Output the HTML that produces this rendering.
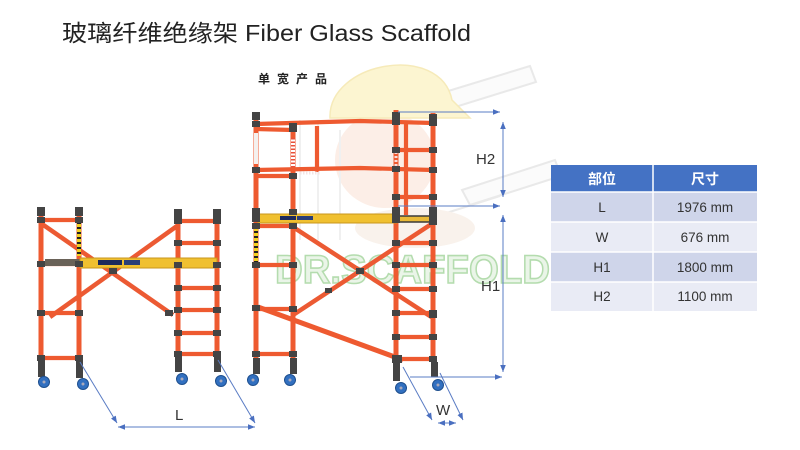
<!DOCTYPE html>
<html><head><meta charset="utf-8">
<style>
html,body{margin:0;padding:0;background:#fff;}
body{width:800px;height:450px;overflow:hidden;}
svg{display:block;}
.p{stroke:#ee5a30;stroke-width:5;fill:none;}
.r{stroke:#ee5a30;stroke-width:4.2;fill:none;}
.b{stroke:#ec5a33;stroke-width:4.5;fill:none;}
.d{stroke:#5a7cc4;stroke-width:1;fill:none;}
.j{fill:#444;}
.w{fill:#3270c0;stroke:#1e4f8e;stroke-width:1;}
.t{font-family:"Liberation Sans","Noto Sans CJK SC",sans-serif;}
</style></head>
<body>
<svg width="800" height="450" viewBox="0 0 800 450" xmlns="http://www.w3.org/2000/svg">
<defs>
<marker id="a" viewBox="0 0 10 10" refX="10" refY="5" markerWidth="7" markerHeight="7" orient="auto-start-reverse" markerUnits="userSpaceOnUse"><path d="M0,1 L10,5 L0,9 z" fill="#4a6fc0"/></marker>
</defs>

<!-- title -->
<text class="t" x="62" y="41" font-size="23" fill="#222" textLength="409" lengthAdjust="spacingAndGlyphs">玻璃纤维绝缘架 Fiber Glass Scaffold</text>
<text class="t" x="258" y="83" font-size="12" font-weight="bold" fill="#222" letter-spacing="7">单宽产品</text>

<!-- watermark -->
<g opacity="0.75">
<path d="M445,92 L530,66 L536,82 L452,108 Z" fill="#fafafa" stroke="#e2e2e2" stroke-width="2"/>
<path d="M462,190 L555,160 L561,176 L470,205 Z" fill="#fafafa" stroke="#e2e2e2" stroke-width="2"/>
<path d="M440,215 L500,196" stroke="#e4e4e4" stroke-width="2"/>
<ellipse cx="385" cy="160" rx="50" ry="48" fill="#fbe9df"/>
<ellipse cx="415" cy="228" rx="60" ry="20" fill="#f7eee6"/>
<path d="M300,120 L300,240 M318,120 L318,240 M340,130 L340,240" stroke="#ececec" stroke-width="2"/>
<path d="M330,118 C328,62 440,42 452,100 L470,118 Z" fill="#fcf2c2" stroke="#f3e4a2" stroke-width="1.5"/>
</g>
<text class="t" x="275" y="283" font-size="40" font-weight="bold" fill="#eaf5e8" stroke="#b4dcae" stroke-width="1.6" textLength="275" lengthAdjust="spacingAndGlyphs">DR.SCAFFOLD</text>
<text class="t" x="560" y="262" font-size="11" fill="#d2d2d2">®</text>

<!-- ===== Left small scaffold ===== -->
<line class="b" x1="42" y1="224" x2="173" y2="315"/>
<line class="b" x1="177" y1="226" x2="50" y2="317"/>
<line class="p" x1="41" y1="208" x2="41" y2="362"/>
<line class="p" x1="79" y1="208" x2="79" y2="362"/>
<line class="p" x1="178" y1="210" x2="178" y2="356"/>
<line class="p" x1="217" y1="210" x2="217" y2="356"/>
<line x1="79" y1="222" x2="79" y2="256" stroke="#f2d020" stroke-width="4"/>
<line x1="79" y1="222" x2="79" y2="256" stroke="#222" stroke-width="4" stroke-dasharray="2,3"/>
<g class="r">
<line x1="41" y1="220" x2="79" y2="220"/>
<line x1="41" y1="264" x2="79" y2="264"/>
<line x1="41" y1="313" x2="79" y2="313"/>
<line x1="41" y1="358" x2="79" y2="358"/>
<line x1="178" y1="221" x2="217" y2="221"/>
<line x1="178" y1="243" x2="217" y2="243"/>
<line x1="178" y1="265" x2="217" y2="265"/>
<line x1="178" y1="288" x2="217" y2="288"/>
<line x1="178" y1="310" x2="217" y2="310"/>
<line x1="178" y1="333" x2="217" y2="333"/>
<line x1="178" y1="354" x2="217" y2="354"/>
</g>
<rect x="45" y="259" width="36" height="7" fill="#6a6258"/>
<rect x="80" y="258" width="137" height="10" fill="#f0c030" stroke="#c9961c" stroke-width="1"/>
<rect x="98" y="260" width="24" height="5" fill="#1d2a5c"/>
<rect x="124" y="260" width="16" height="5" fill="#2a3e78"/>
<g class="j">
<rect x="37" y="207" width="8" height="9"/><rect x="75" y="207" width="8" height="9"/>
<rect x="174" y="209" width="8" height="9"/><rect x="213" y="209" width="8" height="9"/>
<rect x="37" y="217" width="8" height="6"/><rect x="75" y="217" width="8" height="6"/>
<rect x="37" y="261" width="8" height="6"/><rect x="75" y="261" width="8" height="6"/>
<rect x="37" y="310" width="8" height="6"/><rect x="75" y="310" width="8" height="6"/>
<rect x="37" y="355" width="8" height="6"/><rect x="75" y="355" width="8" height="6"/>
<rect x="174" y="218" width="8" height="6"/><rect x="213" y="218" width="8" height="6"/>
<rect x="174" y="240" width="8" height="6"/><rect x="213" y="240" width="8" height="6"/>
<rect x="174" y="262" width="8" height="6"/><rect x="213" y="262" width="8" height="6"/>
<rect x="174" y="285" width="8" height="6"/><rect x="213" y="285" width="8" height="6"/>
<rect x="174" y="307" width="8" height="6"/><rect x="213" y="307" width="8" height="6"/>
<rect x="174" y="330" width="8" height="6"/><rect x="213" y="330" width="8" height="6"/>
<rect x="174" y="351" width="8" height="6"/><rect x="213" y="351" width="8" height="6"/>
<rect x="109" y="268" width="8" height="6"/>
<rect x="165" y="310" width="8" height="6"/>
<rect x="38" y="361" width="7" height="16"/><rect x="76" y="361" width="7" height="17"/>
<rect x="175" y="355" width="7" height="17"/><rect x="214" y="355" width="7" height="17"/>
</g>
<circle class="w" cx="44" cy="382" r="5.5"/><circle class="w" cx="83" cy="384" r="5.5"/>
<circle class="w" cx="182" cy="379" r="5.5"/><circle class="w" cx="221" cy="381" r="5.5"/>
<g fill="#aab"><circle cx="44" cy="382" r="1.5"/><circle cx="83" cy="384" r="1.5"/><circle cx="182" cy="379" r="1.5"/><circle cx="221" cy="381" r="1.5"/></g>

<!-- L dimension -->
<line class="d" x1="80" y1="362" x2="117" y2="423" marker-end="url(#a)"/>
<line class="d" x1="218" y1="360" x2="255" y2="423" marker-end="url(#a)"/>
<line class="d" x1="118" y1="427" x2="255" y2="427" marker-start="url(#a)" marker-end="url(#a)"/>
<text class="t" x="175" y="420" font-size="15" fill="#333">L</text>

<!-- ===== Big scaffold ===== -->
<line class="b" x1="293" y1="227" x2="433" y2="318"/>
<line class="b" x1="293" y1="315" x2="433" y2="223"/>
<line class="p" x1="258" y1="307" x2="403" y2="360"/>
<line class="p" x1="256" y1="113" x2="256" y2="360"/>
<line class="p" x1="293" y1="124" x2="293" y2="360"/>
<line class="p" x1="396" y1="110" x2="396" y2="362"/>
<line class="p" x1="433" y1="113" x2="433" y2="362"/>
<line class="r" x1="406" y1="124" x2="406" y2="215"/>
<line class="r" x1="317" y1="126" x2="317" y2="172"/>
<line x1="256" y1="133" x2="256" y2="164" stroke="#f4f0ee" stroke-width="4"/>
<line x1="293" y1="138" x2="293" y2="168" stroke="#fff" stroke-width="4"/>
<line x1="293" y1="138" x2="293" y2="168" stroke="#e8503a" stroke-width="4" stroke-dasharray="1.5,2"/>
<line x1="396" y1="148" x2="396" y2="168" stroke="#f8dede" stroke-width="3" stroke-dasharray="2,2"/>
<line x1="256" y1="226" x2="256" y2="262" stroke="#f2d020" stroke-width="4"/>
<line x1="256" y1="226" x2="256" y2="262" stroke="#222" stroke-width="4" stroke-dasharray="2,3"/>
<g class="r">
<path d="M256,124 L360,121 L433,123"/>
<line x1="256" y1="129" x2="293" y2="130"/>
<path d="M256,170 L360,168 L433,170"/>
<line x1="256" y1="176" x2="293" y2="176"/>
<line x1="396" y1="150" x2="433" y2="150"/>
<line x1="396" y1="197" x2="433" y2="197"/>
<line x1="256" y1="226" x2="293" y2="226"/>
<line x1="256" y1="265" x2="293" y2="265"/>
<line x1="256" y1="309" x2="293" y2="309"/>
<line x1="256" y1="354" x2="293" y2="354"/>
<line x1="396" y1="243" x2="433" y2="243"/>
<line x1="396" y1="265" x2="433" y2="265"/>
<line x1="396" y1="289" x2="433" y2="289"/>
<line x1="396" y1="313" x2="433" y2="313"/>
<line x1="396" y1="337" x2="433" y2="337"/>
<line x1="396" y1="359" x2="433" y2="359"/>
</g>
<line x1="300" y1="173" x2="320" y2="173" stroke="#f4e4e4" stroke-width="3" stroke-dasharray="1.5,1.5"/>
<rect x="258" y="214" width="139" height="9" fill="#f0c030" stroke="#c9961c" stroke-width="1"/>
<rect x="397" y="216" width="36" height="6" fill="#e9b937" stroke="#3a3a3a" stroke-width="1.5"/>
<rect x="280" y="216" width="16" height="4" fill="#1d2a5c"/>
<rect x="297" y="216" width="16" height="4" fill="#2a3e78"/>
<g class="j">
<rect x="252" y="112" width="8" height="8"/><rect x="289" y="123" width="8" height="5"/>
<rect x="392" y="112" width="8" height="8"/><rect x="429" y="114" width="8" height="7"/>
<rect x="252" y="121" width="8" height="6"/><rect x="289" y="126" width="8" height="6"/>
<rect x="392" y="119" width="8" height="6"/><rect x="429" y="120" width="8" height="6"/>
<rect x="252" y="167" width="8" height="6"/><rect x="289" y="173" width="8" height="6"/>
<rect x="392" y="166" width="8" height="6"/><rect x="429" y="167" width="8" height="6"/>
<rect x="392" y="147" width="8" height="6"/><rect x="429" y="147" width="8" height="6"/>
<rect x="392" y="194" width="8" height="6"/><rect x="429" y="194" width="8" height="6"/>
<rect x="252" y="208" width="8" height="14"/><rect x="289" y="209" width="8" height="6"/>
<rect x="392" y="207" width="8" height="16"/><rect x="429" y="207" width="8" height="18"/>
<rect x="252" y="223" width="8" height="6"/><rect x="289" y="223" width="8" height="6"/>
<rect x="252" y="262" width="8" height="6"/><rect x="289" y="262" width="8" height="6"/>
<rect x="252" y="305" width="8" height="6"/><rect x="289" y="306" width="8" height="6"/>
<rect x="252" y="351" width="8" height="6"/><rect x="289" y="351" width="8" height="6"/>
<rect x="392" y="240" width="8" height="6"/><rect x="429" y="240" width="8" height="6"/>
<rect x="392" y="262" width="8" height="6"/><rect x="429" y="262" width="8" height="6"/>
<rect x="392" y="286" width="8" height="6"/><rect x="429" y="286" width="8" height="6"/>
<rect x="392" y="310" width="8" height="6"/><rect x="429" y="310" width="8" height="8"/>
<rect x="392" y="334" width="8" height="6"/><rect x="429" y="334" width="8" height="6"/>
<rect x="392" y="355" width="10" height="8"/><rect x="429" y="356" width="8" height="6"/>
<rect x="356" y="268" width="8" height="6"/>
<rect x="325" y="288" width="7" height="5"/>
<rect x="253" y="358" width="7" height="16"/><rect x="290" y="358" width="7" height="16"/>
<rect x="393" y="362" width="7" height="19"/><rect x="431" y="362" width="7" height="15"/>
</g>
<circle class="w" cx="253" cy="380" r="5.5"/><circle class="w" cx="290" cy="380" r="5.5"/>
<circle class="w" cx="401" cy="388" r="5.5"/><circle class="w" cx="438" cy="385" r="5.5"/>
<g fill="#aab"><circle cx="253" cy="380" r="1.5"/><circle cx="290" cy="380" r="1.5"/><circle cx="401" cy="388" r="1.5"/><circle cx="438" cy="385" r="1.5"/></g>

<!-- H dims -->
<line class="d" x1="398" y1="112" x2="500" y2="112" marker-end="url(#a)"/>
<line class="d" x1="398" y1="206" x2="500" y2="206" marker-end="url(#a)"/>
<line class="d" x1="503" y1="122" x2="503" y2="197" marker-start="url(#a)" marker-end="url(#a)"/>
<line class="d" x1="503" y1="215" x2="503" y2="372" marker-start="url(#a)" marker-end="url(#a)"/>
<line class="d" x1="410" y1="377" x2="502" y2="377" marker-end="url(#a)"/>
<text class="t" x="476" y="164" font-size="15" fill="#333">H2</text>
<text class="t" x="481" y="291" font-size="15" fill="#333">H1</text>

<!-- W dim -->
<line class="d" x1="403" y1="367" x2="432" y2="420" marker-end="url(#a)"/>
<line class="d" x1="440" y1="373" x2="463" y2="420" marker-end="url(#a)"/>
<line class="d" x1="438" y1="423" x2="456" y2="423" marker-start="url(#a)" marker-end="url(#a)"/>
<text class="t" x="436" y="415" font-size="15" fill="#333">W</text>

<!-- ===== Table ===== -->
<rect x="551" y="165" width="206" height="27" fill="#4472c4"/>
<rect x="551" y="192" width="206" height="30" fill="#cfd5ea"/>
<rect x="551" y="222" width="206" height="30" fill="#e9ebf5"/>
<rect x="551" y="252" width="206" height="30" fill="#cfd5ea"/>
<rect x="551" y="282" width="206" height="29" fill="#e9ebf5"/>
<g stroke="#fff" stroke-width="1.5">
<line x1="551" y1="192" x2="757" y2="192"/>
<line x1="551" y1="222" x2="757" y2="222"/>
<line x1="551" y1="252" x2="757" y2="252"/>
<line x1="551" y1="282" x2="757" y2="282"/>
<line x1="653" y1="165" x2="653" y2="311"/>
</g>
<g class="t" text-anchor="middle">
<text x="602" y="184" font-size="14" font-weight="bold" fill="#fff">部位</text>
<text x="705" y="184" font-size="14" font-weight="bold" fill="#fff">尺寸</text>
<g font-size="13.5" fill="#333">
<text x="602" y="212">L</text><text x="705" y="212">1976 mm</text>
<text x="602" y="242">W</text><text x="705" y="242">676 mm</text>
<text x="602" y="272">H1</text><text x="705" y="272">1800 mm</text>
<text x="602" y="301">H2</text><text x="705" y="301">1100 mm</text>
</g>
</g>
</svg>
</body></html>
